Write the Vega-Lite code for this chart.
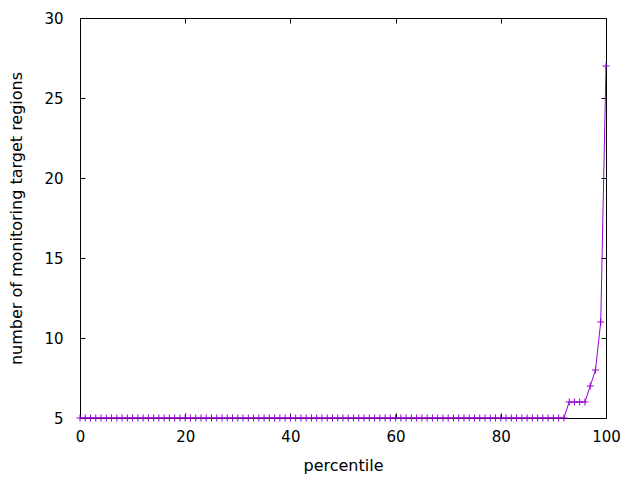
{
  "$schema": "https://vega.github.io/schema/vega-lite/v6.json",
  "width": 526,
  "height": 400,
  "autosize": "none",
  "padding": {"left": 80, "top": 18, "right": 34, "bottom": 62},
  "background": "white",
  "config": {
    "font": "DejaVu Sans",
    "view": {"stroke": "black", "strokeWidth": 1},
    "axis": {
      "grid": false,
      "domain": false,
      "tickColor": "black",
      "tickSize": -5,
      "tickWidth": 1,
      "labelFlush": false,
      "labelOverlap": false,
      "labelFont": "DejaVu Sans",
      "labelFontSize": 15,
      "labelColor": "black",
      "titleFont": "DejaVu Sans",
      "titleFontSize": 16,
      "titleFontWeight": "normal",
      "titleColor": "black"
    }
  },
  "data": {
    "values": [
      {"p": 0, "v": 5}, {"p": 1, "v": 5}, {"p": 2, "v": 5}, {"p": 3, "v": 5}, {"p": 4, "v": 5},
      {"p": 5, "v": 5}, {"p": 6, "v": 5}, {"p": 7, "v": 5}, {"p": 8, "v": 5}, {"p": 9, "v": 5},
      {"p": 10, "v": 5}, {"p": 11, "v": 5}, {"p": 12, "v": 5}, {"p": 13, "v": 5}, {"p": 14, "v": 5},
      {"p": 15, "v": 5}, {"p": 16, "v": 5}, {"p": 17, "v": 5}, {"p": 18, "v": 5}, {"p": 19, "v": 5},
      {"p": 20, "v": 5}, {"p": 21, "v": 5}, {"p": 22, "v": 5}, {"p": 23, "v": 5}, {"p": 24, "v": 5},
      {"p": 25, "v": 5}, {"p": 26, "v": 5}, {"p": 27, "v": 5}, {"p": 28, "v": 5}, {"p": 29, "v": 5},
      {"p": 30, "v": 5}, {"p": 31, "v": 5}, {"p": 32, "v": 5}, {"p": 33, "v": 5}, {"p": 34, "v": 5},
      {"p": 35, "v": 5}, {"p": 36, "v": 5}, {"p": 37, "v": 5}, {"p": 38, "v": 5}, {"p": 39, "v": 5},
      {"p": 40, "v": 5}, {"p": 41, "v": 5}, {"p": 42, "v": 5}, {"p": 43, "v": 5}, {"p": 44, "v": 5},
      {"p": 45, "v": 5}, {"p": 46, "v": 5}, {"p": 47, "v": 5}, {"p": 48, "v": 5}, {"p": 49, "v": 5},
      {"p": 50, "v": 5}, {"p": 51, "v": 5}, {"p": 52, "v": 5}, {"p": 53, "v": 5}, {"p": 54, "v": 5},
      {"p": 55, "v": 5}, {"p": 56, "v": 5}, {"p": 57, "v": 5}, {"p": 58, "v": 5}, {"p": 59, "v": 5},
      {"p": 60, "v": 5}, {"p": 61, "v": 5}, {"p": 62, "v": 5}, {"p": 63, "v": 5}, {"p": 64, "v": 5},
      {"p": 65, "v": 5}, {"p": 66, "v": 5}, {"p": 67, "v": 5}, {"p": 68, "v": 5}, {"p": 69, "v": 5},
      {"p": 70, "v": 5}, {"p": 71, "v": 5}, {"p": 72, "v": 5}, {"p": 73, "v": 5}, {"p": 74, "v": 5},
      {"p": 75, "v": 5}, {"p": 76, "v": 5}, {"p": 77, "v": 5}, {"p": 78, "v": 5}, {"p": 79, "v": 5},
      {"p": 80, "v": 5}, {"p": 81, "v": 5}, {"p": 82, "v": 5}, {"p": 83, "v": 5}, {"p": 84, "v": 5},
      {"p": 85, "v": 5}, {"p": 86, "v": 5}, {"p": 87, "v": 5}, {"p": 88, "v": 5}, {"p": 89, "v": 5},
      {"p": 90, "v": 5}, {"p": 91, "v": 5}, {"p": 92, "v": 5}, {"p": 93, "v": 6}, {"p": 94, "v": 6},
      {"p": 95, "v": 6}, {"p": 96, "v": 6}, {"p": 97, "v": 7}, {"p": 98, "v": 8}, {"p": 99, "v": 11},
      {"p": 100, "v": 27}
    ]
  },
  "layer": [
    {
      "mark": {"type": "line", "color": "#9400d3", "strokeWidth": 1, "clip": true},
      "encoding": {
        "x": {"field": "p", "type": "quantitative",
              "scale": {"domain": [0, 100], "nice": false, "zero": false},
              "axis": {"orient": "bottom", "values": [0, 20, 40, 60, 80, 100], "title": "percentile", "labelPadding": 16, "titlePadding": 13}},
        "y": {"field": "v", "type": "quantitative",
              "scale": {"domain": [5, 30], "nice": false, "zero": false},
              "axis": {"orient": "left", "values": [5, 10, 15, 20, 25, 30], "title": "number of monitoring target regions", "labelPadding": 22, "titlePadding": 19}}
      }
    },
    {
      "mark": {"type": "point", "shape": "M-1,0L1,0M0,-1L0,1", "filled": false, "color": "#9400d3", "strokeWidth": 1, "size": 49, "opacity": 1, "clip": false},
      "encoding": {
        "x": {"field": "p", "type": "quantitative",
              "axis": {"orient": "top", "values": [0, 20, 40, 60, 80, 100], "labels": false, "title": null}},
        "y": {"field": "v", "type": "quantitative",
              "axis": {"orient": "right", "values": [5, 10, 15, 20, 25, 30], "labels": false, "title": null}}
      }
    }
  ],
  "resolve": {"axis": {"x": "independent", "y": "independent"}}
}
